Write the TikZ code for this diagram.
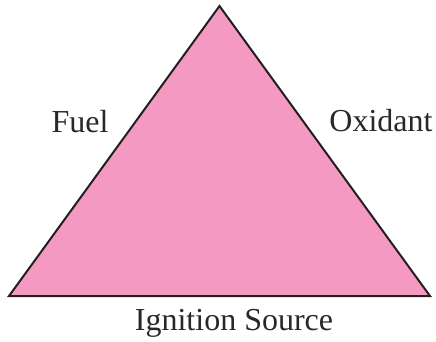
\documentclass[tikz,border=0pt]{standalone}
\usepackage{fontspec}
\setmainfont{Liberation Serif}
\definecolor{pinkfill}{RGB}{243,153,194}
\definecolor{edge}{RGB}{35,31,32}
\definecolor{txt}{RGB}{40,40,40}
\begin{document}
\begin{tikzpicture}[x=1pt,y=-1pt,
  lbl/.style={anchor=base,text=txt,font=\fontsize{32}{38}\selectfont,inner sep=0pt}]
\useasboundingbox (0,0) rectangle (436,341);
\coordinate (top) at (219.5,6);
\coordinate (bl) at (9,296);
\coordinate (br) at (430,296);
\draw[fill=pinkfill,draw=edge,line width=2pt,line join=miter] (top) -- (br) -- (bl) -- cycle;
\node[lbl] (fuel) at (80,132) {Fuel};
\node[lbl] (ox) at (381,131) {Oxidant};
\node[lbl] (ign) at (234,330) {Ignition Source};
\end{tikzpicture}
\end{document}
